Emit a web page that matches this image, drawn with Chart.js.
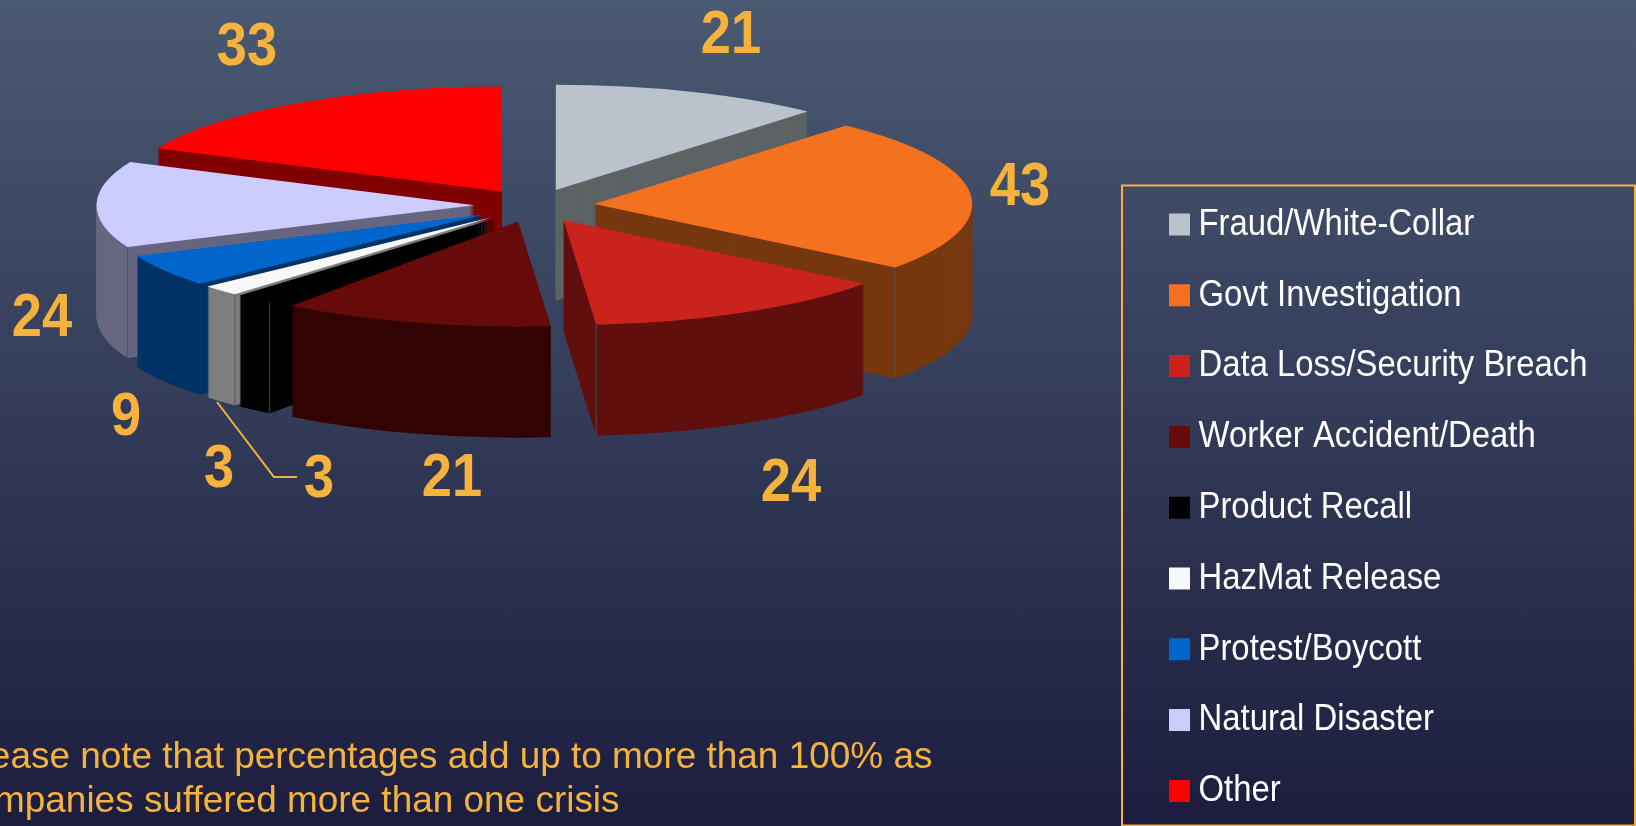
<!DOCTYPE html>
<html><head><meta charset="utf-8">
<style>
html,body{margin:0;padding:0;width:1636px;height:826px;overflow:hidden;background:linear-gradient(180deg,#4a5972 0%,#1c1d3e 100%);}
canvas{display:block;}
</style>
<script src="https://cdn.jsdelivr.net/npm/chart.js@4"></script>
</head><body>
<canvas id="c" width="1636" height="826"></canvas>
<script>
const categories = ['Fraud/White-Collar','Govt Investigation','Data Loss/Security Breach','Worker Accident/Death','Product Recall','HazMat Release','Protest/Boycott','Natural Disaster','Other'];
const values = [21,43,24,21,3,3,9,24,33];
const topColors = ['#bac3cb','#f47120','#c9231c','#660a0a','#000000','#f8f8f8','#0066cc','#ccccff','#ff0000'];
const sideColors = ['#5d6365','#77380f','#61100e','#320404','#000000','#7e7e7e','#003366','#666680','#800000'];
const labelAnchors = [[731,36],[1020,188],[791,484],[452,479],[319,480],[219,470],[126,418],[42,319],[247,48]];
const noteLines = ['Please note that percentages add up to more than 100% as','companies suffered more than one crisis'];
const noteStarts = [-43,-45];
const seamSlices = {1:'end',2:'end',4:'start',5:'start',7:'start'};

const GOLD='#f5b33e', CX=534.5, CY=205.5, RADIUS=378, TILT=0.278, DEPTH=111, EXPLODE=60;
const SANS='"Liberation Sans",Arial,sans-serif';
let textScaleX=0.888;

function drawArcAt(ctx, arc, color, dy){
  const mid=(arc.startAngle+arc.endAngle)/2;
  const saved=arc.options;
  arc.options=Object.assign({},saved,{backgroundColor:color,borderWidth:0,offset:0});
  ctx.save();
  ctx.translate(CX,CY+dy);
  ctx.scale(1,TILT);
  ctx.translate(Math.cos(mid)*EXPLODE,Math.sin(mid)*EXPLODE);
  ctx.translate(-arc.x,-arc.y);
  arc.draw(ctx);
  ctx.restore();
  arc.options=saved;
}

const pie3d={
  id:'pie3d',
  afterLayout(chart){
    const l=chart.legend, pad=l.options.labels.padding;
    l.left=1179-pad; l.right=1700; l.top=206-pad; l.bottom=1000; l.width=l.right-l.left; l.height=l.bottom-l.top;
    l.adjustHitBoxes();
  },
  beforeInit(chart){
    const c=chart.ctx, orig=c.fillText;
    c.fillText=function(t,x,y){
      c.save(); c.translate(x,y); c.scale(textScaleX,1); orig.call(c,t,0,0); c.restore();
    };
  },
  beforeDraw(chart){
    const c=chart.ctx;
    textScaleX=0.888;
    c.save();
    c.strokeStyle=GOLD; c.lineWidth=2;
    c.strokeRect(1122,185.5,513,640);
    c.restore();
  },
  beforeDatasetsDraw(chart){
    const c=chart.ctx, arcs=chart.getDatasetMeta(0).data;
    const m=a=>(a.startAngle+a.endAngle)/2;
    const order=arcs.map((a,i)=>i).sort((p,q)=>Math.sin(m(arcs[p]))-Math.sin(m(arcs[q])));
    for(const i of order){
      const a=arcs[i];
      for(let d=DEPTH;d>0;d--) drawArcAt(c,a,sideColors[i],d);
      drawArcAt(c,a,topColors[i],0);
      if(seamSlices[i]){
        const mid=m(a);
        const ang=seamSlices[i]==='end'?a.endAngle:a.startAngle;
        const x=CX+Math.cos(mid)*EXPLODE+Math.cos(ang)*RADIUS;
        const y=CY+TILT*(Math.sin(mid)*EXPLODE+Math.sin(ang)*RADIUS);
        c.save(); c.strokeStyle='rgba(70,85,110,0.85)'; c.lineWidth=1;
        c.beginPath(); c.moveTo(x,y); c.lineTo(x,y+DEPTH); c.stroke(); c.restore();
      }
    }
    return false;
  },
  afterDraw(chart){
    const c=chart.ctx;
    c.save();
    c.fillStyle=GOLD; c.textAlign='center'; c.textBaseline='middle';
    c.font='bold 61px '+SANS;
    textScaleX=0.89;
    values.forEach((v,i)=>c.fillText(String(v),labelAnchors[i][0],labelAnchors[i][1]));
    c.strokeStyle=GOLD; c.lineWidth=2;
    c.beginPath(); c.moveTo(217,402); c.lineTo(274,477); c.lineTo(297,477); c.stroke();
    c.textAlign='left'; c.textBaseline='alphabetic';
    c.font='37.5px '+SANS;
    textScaleX=0.985;
    c.fillText(noteLines[0],noteStarts[0],768);
    c.fillText(noteLines[1],noteStarts[1],812);
    c.restore();
  }
};

new Chart(document.getElementById('c'),{
  type:'pie',
  data:{labels:categories,datasets:[{data:values,backgroundColor:topColors,borderWidth:0}]},
  options:{
    responsive:false,animation:false,radius:RADIUS,
    plugins:{
      tooltip:{enabled:false},
      legend:{position:'right',align:'start',labels:{
        color:'#ffffff',font:{family:SANS,size:37},boxWidth:1,boxHeight:2,padding:33.8,
        generateLabels(chart){
          return categories.map((t,i)=>({text:t,fillStyle:topColors[i],strokeStyle:topColors[i],lineWidth:20,fontColor:'#ffffff',hidden:false,index:i}));
        }
      }}
    }
  },
  plugins:[pie3d]
});
</script>
</body></html>
